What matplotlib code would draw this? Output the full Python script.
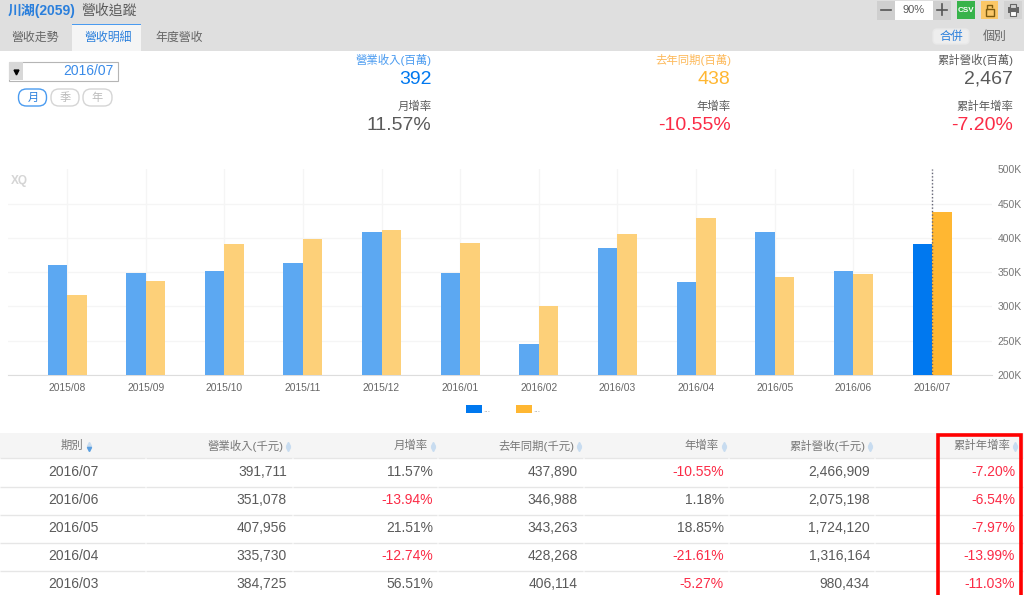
import matplotlib.pyplot as plt
from matplotlib.patches import Rectangle, FancyBboxPatch

plt.rcParams['font.family'] = ['Liberation Sans', 'Noto Sans CJK TC']

BLUE = '#0078ef'
ORANGE = '#ffb732'
RED = '#fb2b46'
GRAY = '#5a5a5a'

months = ['2015/08', '2015/09', '2015/10', '2015/11', '2015/12', '2016/01',
          '2016/02', '2016/03', '2016/04', '2016/05', '2016/06', '2016/07']
revenue = [361, 349, 352, 363, 408, 349, 245, 384.725, 335.730, 407.956, 351.078, 391.711]
last_year = [317, 337, 391, 398, 411, 392, 301, 406.114, 428.268, 343.263, 346.988, 437.890]
y_ticks = [200, 250, 300, 350, 400, 450, 500]

periods = ['2016/07', '2016/06', '2016/05', '2016/04', '2016/03']
rev_col = ['391,711', '351,078', '407,956', '335,730', '384,725']
mom_col = ['11.57%', '-13.94%', '21.51%', '-12.74%', '56.51%']
prev_col = ['437,890', '346,988', '343,263', '428,268', '406,114']
yoy_col = ['-10.55%', '1.18%', '18.85%', '-21.61%', '-5.27%']
cum_col = ['2,466,909', '2,075,198', '1,724,120', '1,316,164', '980,434']
cum_yoy_col = ['-7.20%', '-6.54%', '-7.97%', '-13.99%', '-11.03%']
headers = ['營業收入(千元)', '月增率', '去年同期(千元)', '年增率', '累計營收(千元)', '累計年增率']

fig = plt.figure(figsize=(10.24, 5.95), dpi=100)

# page furniture is laid out in pixels
ui = fig.add_axes([0, 0, 1, 1])
ui.set_xlim(0, 1024)
ui.set_ylim(595, 0)
ui.axis('off')


def txt(x, y, s, size=9, color=GRAY, ha='right', **kw):
    ui.text(x, y, s, fontsize=size, color=color, ha=ha, va='center', **kw)


def box(x, y, w, h, color, **kw):
    ui.add_patch(Rectangle((x, y), w, h, facecolor=color, edgecolor='none', **kw))


def pill(x, y, w, h, edge, face='white', r=7):
    ui.add_patch(FancyBboxPatch((x + r, y + r), w - 2 * r, h - 2 * r, boxstyle=f'round,pad={r}',
                                facecolor=face, edgecolor=edge, linewidth=1))


# top bar
box(0, 0, 1024, 50.5, '#dfdfdf')
box(72, 25, 69, 25.5, '#f5f5f5')
box(72, 24, 69, 1.2, '#4a9bf0')
txt(8, 10.5, '川湖(2059)', 10, '#2a7fdc', ha='left', fontweight='bold')
txt(81, 10.5, '營收追蹤', 10, GRAY, ha='left')
txt(11, 37.5, '營收走勢', 8.6, '#666666', ha='left')
txt(84, 37.5, '營收明細', 8.6, '#2a7fdc', ha='left')
txt(155, 37.5, '年度營收', 8.6, '#666666', ha='left')

# zoom and export buttons
box(877, 1, 18, 19, '#cfcfcf')
box(895, 1, 38, 19, 'white')
box(933, 1, 18, 19, '#cfcfcf')
txt(914, 10, '90%', 8, GRAY, ha='center')
ui.plot([881, 891], [9.5, 9.5], color='#555555', lw=1.2)
ui.plot([937, 947], [9.5, 9.5], color='#555555', lw=1.2)
ui.plot([942, 942], [4, 15], color='#555555', lw=1.2)
box(957, 1, 18, 18, '#37b34a')
txt(966, 10, 'CSV', 5.8, 'white', ha='center', fontweight='bold')
box(981, 1, 17, 18, '#fbc766')
ui.add_patch(Rectangle((985.5, 9), 8, 7, facecolor='none', edgecolor='#7a5a10', lw=1))
ui.plot([987, 987, 992, 992], [9, 4.5, 4.5, 7], color='#7a5a10', lw=1)
box(1004, 1, 18, 18, '#d3d3d3')
ui.add_patch(Rectangle((1007.5, 7), 11, 6, facecolor='#666666', edgecolor='none'))
ui.add_patch(Rectangle((1010, 3.5), 6, 4, facecolor='#d3d3d3', edgecolor='#666666', lw=0.8))
ui.add_patch(Rectangle((1010, 11), 6, 5, facecolor='white', edgecolor='#666666', lw=0.8))
pill(933, 29, 36, 15, '#e9e9e9', '#eeeeee', r=4)
txt(951, 36.5, '合併', 8.6, '#2a7fdc', ha='center')
txt(995, 36.5, '個別', 8.6, '#666666', ha='center')

# date picker and period buttons
ui.add_patch(Rectangle((8.5, 61.5), 109, 19, facecolor='white', edgecolor='#b5b5b5', lw=0.8))
box(9, 62, 14, 18, '#d8d8d8')
ui.plot([16], [71.5], marker='v', ms=3.5, color='black')
txt(113.5, 71, '2016/07', 10, '#3a8be8')
pill(18.5, 89, 28, 17, '#4a9bf0', r=8)
pill(51, 89, 28, 17, '#d5d5d5', r=8)
pill(83, 89, 29, 17, '#d5d5d5', r=8)
txt(33, 98, '月', 8, '#2a7fdc', ha='center')
txt(65, 98, '季', 8, '#bbbbbb', ha='center')
txt(97.5, 98, '年', 8, '#bbbbbb', ha='center')

# summary figures
txt(432, 60, '營業收入(百萬)', 8.2, '#4a9bf0')
txt(431.5, 79, '392', 14, BLUE)
txt(432, 106.5, '月增率', 8.2, GRAY)
txt(431.5, 126, '11.57%', 14, GRAY)
txt(731, 60, '去年同期(百萬)', 8.2, '#fdb95a')
txt(730.5, 79, '438', 14, ORANGE)
txt(731, 106.5, '年增率', 8.2, GRAY)
txt(730.5, 126, '-10.55%', 14, RED)
txt(1013, 60, '累計營收(百萬)', 8.2, GRAY)
txt(1012.5, 79, '2,467', 14, GRAY)
txt(1013, 106.5, '累計年增率', 8.2, GRAY)
txt(1012.5, 126, '-7.20%', 14, RED)

# bar chart, x units are months, y in thousands
ax = fig.add_axes([8 / 1024, (595 - 375) / 595, (992 - 8) / 1024, (375 - 169.3) / 595], zorder=3)
ax.patch.set_alpha(0)
step = 78.64
ax.set_xlim(-(67 - 8) / step, (992 - 67) / step)
ax.set_ylim(200, 500)
x = list(range(len(months)))
bw = 19.5 / step
for i in x:
    solid = i == len(months) - 1
    ax.bar(i - bw / 2, revenue[i], bw, color=BLUE if solid else '#5ca8f2', zorder=3)
    ax.bar(i + bw / 2, last_year[i], bw, color=ORANGE if solid else '#fdd079', zorder=3)
ax.set_xticks(x)
ax.set_xticklabels(months)
ax.set_yticks(y_ticks)
ax.set_yticklabels([f'{v}K' for v in y_ticks])
ax.yaxis.tick_right()
ax.tick_params(axis='x', length=0, pad=6, labelsize=7.4, labelcolor='#666666')
ax.tick_params(axis='y', length=0, pad=4, labelsize=7.5, labelcolor='#777777')
ax.grid(color='#f5f5f5', lw=1, zorder=0)
ax.get_ygridlines()[-1].set_visible(False)
ax.set_axisbelow(True)
for side in ['top', 'left', 'right']:
    ax.spines[side].set_visible(False)
ax.spines['bottom'].set_color('#dddddd')
ax.axvline(x[-1], color='#667', lw=1, ls=(0, (1, 1.5)), zorder=4)
txt(11, 181, 'XQ', 8.5, '#d5d5d5', ha='left', fontweight='bold', zorder=5)

# legend
box(466, 405, 15.5, 8, BLUE)
txt(483, 411, '...', 6, '#999999', ha='left')
box(516, 405, 15.5, 8, ORANGE)
txt(533, 411, '...', 6, '#999999', ha='left')

# table
box(0, 433, 1024, 25, '#f5f5f5')
edges = [0, 146, 292.5, 438, 583.5, 729, 875, 1024]
for y in [458, 486.5, 514.5, 542.5, 570.5]:
    for a, b in zip(edges[:-1], edges[1:]):
        ui.plot([a, b - 1], [y, y], color='#e6e6e6', lw=1, solid_capstyle='butt')

right_edges = [287, 433, 578, 724, 870, 1015]
head_right = [283, 428, 574, 719, 865, 1010]
txt(72, 445.5, '期別', 8.2, '#777777', ha='center')
arrow_x = [89] + [h + 5 for h in head_right]
for i, ax_x in enumerate(arrow_x):
    low = '#5b9fe0' if i == 0 else '#c8dcf0'
    ui.plot([ax_x], [444], marker='^', ms=3, color='#c8dcf0', ls='')
    ui.plot([ax_x], [449], marker='v', ms=3, color=low, ls='')
for h, s in zip(head_right, headers):
    txt(h, 445.5, s, 8.2, '#777777')

row_y = [472.5, 500.5, 528.5, 556.5, 584.5]
columns = [rev_col, mom_col, prev_col, yoy_col, cum_col, cum_yoy_col]
for i, y in enumerate(row_y):
    txt(73, y, periods[i], 10, GRAY, ha='center')
    for col, rx in zip(columns, right_edges):
        s = col[i]
        txt(rx, y, s, 10, RED if s.startswith('-') else GRAY)

# red highlight box around the last column
ui.plot([937.5, 937.5, 1021, 1021], [600, 434.5, 434.5, 600], color='#ff0000', lw=2.6,
        solid_joinstyle='miter', zorder=6)

fig.savefig('out.png', dpi=100)
